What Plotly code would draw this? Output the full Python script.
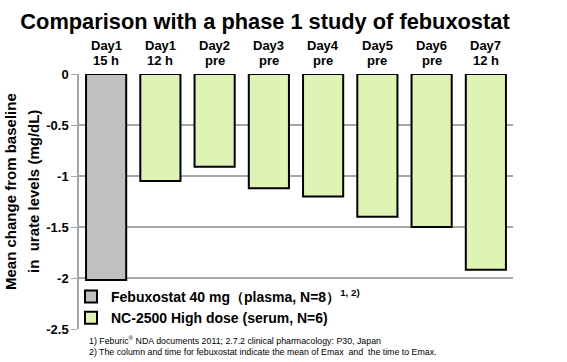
import plotly.graph_objects as go

categories = ["Day1 15 h", "Day1 12 h", "Day2 pre", "Day3 pre", "Day4 pre",
              "Day5 pre", "Day6 pre", "Day7 12 h"]
day_labels = ["Day1", "Day1", "Day2", "Day3", "Day4", "Day5", "Day6", "Day7"]
time_labels = ["15 h", "12 h", "pre", "pre", "pre", "pre", "pre", "12 h"]
febuxostat_cat = categories[:1]
febuxostat_vals = [-2.02]
nc2500_cat = categories[1:]
nc2500_vals = [-1.05, -0.91, -1.12, -1.20, -1.40, -1.50, -1.92]
y_ticks = [0, -0.5, -1, -1.5, -2, -2.5]
y_tick_labels = ["0", "-0.5", "-1", "-1.5", "-2", "-2.5"]
y_title_lines = ["Mean change from baseline", "in  urate levels (mg/dL)"]
footnotes = [
    "1) Feburic<sup>®</sup> NDA documents 2011; 2.7.2 clinical pharmacology: P30, Japan",
    "2) The column and time for febuxostat indicate the mean of Emax  and  the time to Emax.",
]

FONT = "Liberation Sans, Arial, sans-serif"
W, H = 567, 362
ML, MR, MT, MB = 79, 54, 74, 33
PW, PH = W - ML - MR, H - MT - MB

def px_x(px):
    return (px - ML) / PW

def px_y(py):
    return (H - MB - py) / PH

fig = go.Figure()
fig.add_trace(go.Bar(
    x=febuxostat_cat, y=febuxostat_vals,
    name="Febuxostat 40 mg（plasma, N=8）<sup>1, 2)</sup>",
    marker=dict(color="#c0c0c0", line=dict(color="#000000", width=2)),
))
fig.add_trace(go.Bar(
    x=nc2500_cat, y=nc2500_vals,
    name="NC-2500 High dose (serum, N=6)",
    marker=dict(color="#def3b4", line=dict(color="#000000", width=2)),
))

fig.update_layout(
    width=W, height=H,
    margin=dict(l=ML, r=MR, t=MT, b=MB),
    paper_bgcolor="white", plot_bgcolor="white",
    barmode="overlay", bargap=0.26,
    font=dict(family=FONT, color="#000000"),
    title=dict(text="<b>Comparison with a phase 1 study of febuxostat</b>",
               x=265 / W, xanchor="center", y=1 - 21 / H, yanchor="middle",
               font=dict(size=21.8, family=FONT, color="#000000")),
    showlegend=True,
    legend=dict(x=px_x(71), y=px_y(281), xanchor="left", yanchor="top",
                bgcolor="rgba(0,0,0,0)", traceorder="normal",
                font=dict(size=14, family=FONT, color="#000000", weight="bold"),
                itemwidth=30, tracegroupgap=0),
)
fig.update_xaxes(categoryorder="array", categoryarray=categories, side="top",
                 showline=False, ticks="", showticklabels=False, automargin=False)
fig.update_yaxes(range=[-2.5, 0], tickvals=y_ticks, ticktext=y_tick_labels,
                 showgrid=True, gridcolor="#a6a6a6", gridwidth=1.5, automargin=False,
                 showline=True, linecolor="#a6a6a6", linewidth=1.5,
                 ticks="outside", ticklen=6, tickcolor="#a6a6a6", zeroline=False,
                 tickfont=dict(size=13, family=FONT, color="#000000", weight="bold"))

for cat, d, t in zip(categories, day_labels, time_labels):
    fig.add_annotation(x=cat, xref="x", yref="paper", y=px_y(46), yanchor="middle",
                       text=f"<b>{d}</b>", showarrow=False,
                       font=dict(size=13, family=FONT, color="#000000"))
    fig.add_annotation(x=cat, xref="x", yref="paper", y=px_y(61), yanchor="middle",
                       text=f"<b>{t}</b>", showarrow=False,
                       font=dict(size=13, family=FONT, color="#000000"))

for line, xc in zip(y_title_lines, [10, 33]):
    fig.add_annotation(xref="paper", yref="paper", x=px_x(xc), y=px_y(192),
                       xanchor="center", yanchor="middle", textangle=-90,
                       text=f"<b>{line}</b>", showarrow=False,
                       font=dict(size=15, family=FONT, color="#000000"))

for note, yc in zip(footnotes, [340, 352]):
    fig.add_annotation(
        xref="paper", yref="paper", x=px_x(87), y=px_y(yc), xanchor="left", yanchor="middle",
        showarrow=False, align="left", text=note,
        font=dict(size=8.8, family=FONT, color="#000000"),
    )

fig.write_html("out.html", config={"displayModeBar": False},
               post_script="document.body.style.margin='0';document.body.style.overflow='hidden';")
